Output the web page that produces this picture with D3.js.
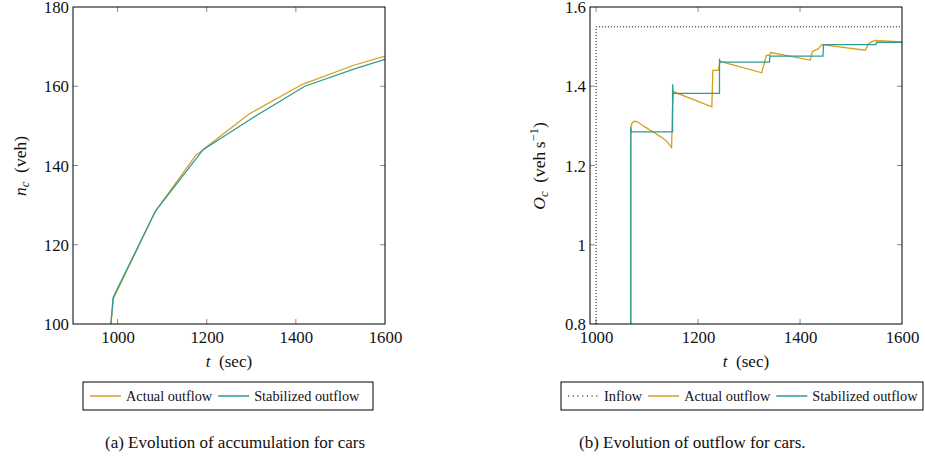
<!DOCTYPE html>
<html>
<head>
<meta charset="utf-8">
<script src="https://cdn.jsdelivr.net/npm/d3@7/dist/d3.min.js"></script>
</head>
<body style="margin:0">
<svg id="chart" width="925" height="459" font-family='"Liberation Serif", monospace'></svg>
<script>
// ---------- Data ----------
// (a) accumulation n_c (veh) vs t (sec)
const accActualT   = [985, 991, 1085, 1175, 1195, 1295, 1415, 1530, 1600];
const accActualN   = [100, 106.5, 128.5, 142.5, 144.3, 153, 160.5, 165.3, 167.6];
const accStabT     = [985, 990, 1085, 1192, 1300, 1420, 1530, 1600];
const accStabN     = [100, 106.7, 128.5, 144, 151.8, 160, 164.3, 166.8];
const accXTicks    = [1000, 1200, 1400, 1600];
const accYTicks    = [100, 120, 140, 160, 180];

// (b) outflow O_c (veh/s) vs t (sec)
const inflowT      = [1000, 1000, 1600];
const inflowO      = [0.8, 1.55, 1.55];
const outActualT   = [1068, 1068, 1071, 1075, 1080, 1086, 1095, 1105, 1112, 1122, 1132, 1140, 1148,
                      1150, 1152, 1227, 1229, 1240, 1243, 1325, 1327, 1329, 1334, 1340, 1343,
                      1420, 1424, 1430, 1436, 1443, 1528, 1534, 1540, 1547, 1600];
const outActualO   = [0.8, 1.298, 1.308, 1.312, 1.311, 1.306, 1.298, 1.29, 1.285, 1.276, 1.268, 1.259, 1.245,
                      1.35, 1.386, 1.348, 1.44, 1.44, 1.463, 1.434, 1.447, 1.453, 1.478, 1.478, 1.485,
                      1.466, 1.487, 1.491, 1.495, 1.505, 1.491, 1.507, 1.512, 1.516, 1.512];
const outStabT     = [1068, 1068, 1069, 1150, 1150, 1151, 1242, 1242, 1243, 1340, 1341, 1445, 1446, 1549, 1550, 1600];
const outStabO     = [0.8, 1.297, 1.285, 1.285, 1.405, 1.382, 1.382, 1.47, 1.461, 1.461, 1.476, 1.476, 1.505, 1.505, 1.511, 1.511];
const outXTicks    = [1000, 1200, 1400, 1600];
const outYTicks    = [0.8, 1, 1.2, 1.4, 1.6];

const ORANGE = "#D6A01A";
const TEAL   = "#2C9C97";
const TICKC  = "#8a8a8a";
const SERIF  = '"Liberation Serif", monospace';

const svg = d3.select("#chart");

function T(sel){ return sel.attr("font-family", SERIF).style("font-family", SERIF).attr("fill", "#111"); }

function panel(opt){
  const {x0,x1,y0,y1,xDom,yDom,xTicks,yTicks,yFmt,series} = opt;
  const x = d3.scaleLinear().domain(xDom).range([x0,x1]);
  const y = d3.scaleLinear().domain(yDom).range([y1,y0]);
  const g = svg.append("g");
  const cid = "clip"+Math.round(x0);
  svg.append("defs").append("clipPath").attr("id",cid)
    .append("rect").attr("x",x0).attr("y",y0).attr("width",x1-x0).attr("height",y1-y0);
  const tl = 5;
  xTicks.forEach(t=>{
    const px = x(t);
    if (px > x0+0.5 && px < x1-0.5){
      g.append("line").attr("x1",px).attr("x2",px).attr("y1",y1).attr("y2",y1-tl).attr("stroke",TICKC).attr("stroke-width",1);
      g.append("line").attr("x1",px).attr("x2",px).attr("y1",y0).attr("y2",y0+tl).attr("stroke",TICKC).attr("stroke-width",1);
    }
  });
  yTicks.forEach(v=>{
    const py = y(v);
    if (py > y0+0.5 && py < y1-0.5){
      g.append("line").attr("x1",x0).attr("x2",x0+tl).attr("y1",py).attr("y2",py).attr("stroke",TICKC).attr("stroke-width",1);
      g.append("line").attr("x1",x1).attr("x2",x1-tl).attr("y1",py).attr("y2",py).attr("stroke",TICKC).attr("stroke-width",1);
    }
  });
  const line = d3.line().x(d=>x(d[0])).y(d=>y(d[1]));
  series.forEach(s=>{
    const pts = s.t.map((t,i)=>[t,s.v[i]]);
    g.append("path").attr("d",line(pts)).attr("fill","none")
      .attr("stroke",s.color).attr("stroke-width",s.w||1.3)
      .attr("stroke-dasharray",s.dash||null)
      .attr("clip-path",`url(#${cid})`);
  });
  g.append("rect").attr("x",x0).attr("y",y0).attr("width",x1-x0).attr("height",y1-y0)
    .attr("fill","none").attr("stroke","#000").attr("stroke-width",1);
  const xa = d3.axisBottom(x).tickValues(xTicks).tickSize(0).tickPadding(0).tickFormat(d3.format("d"));
  const xg = g.append("g").attr("transform",`translate(0,${y1})`).call(xa);
  xg.attr("font-family",SERIF).attr("font-size",16.8);
  xg.select(".domain").remove();
  T(xg.selectAll("text")).attr("dy",null).attr("y",19);
  const ya = d3.axisLeft(y).tickValues(yTicks).tickSize(0).tickPadding(0).tickFormat(yFmt);
  const yg = g.append("g").attr("transform",`translate(${x0-4},0)`).call(ya);
  yg.attr("font-family",SERIF).attr("font-size",16.8);
  yg.select(".domain").remove();
  T(yg.selectAll("text")).attr("dy","0.34em");
  const xl = T(g.append("text")).attr("x",(x0+x1)/2).attr("y",y1+43).attr("text-anchor","middle").attr("font-size",17);
  xl.append("tspan").attr("font-style","italic").text("t");
  xl.append("tspan").text("\u2002(sec)");
  return {x,y,g};
}

panel({x0:73,x1:385,y0:7,y1:324,xDom:[900,1600],yDom:[100,180],
  xTicks:accXTicks,yTicks:accYTicks,yFmt:d3.format("d"),
  series:[
    {t:accActualT,v:accActualN,color:ORANGE},
    {t:accStabT,v:accStabN,color:TEAL}
  ]});
panel({x0:590,x1:902,y0:7,y1:324,xDom:[988,1600],yDom:[0.8,1.6],
  xTicks:outXTicks,yTicks:outYTicks,yFmt:d=> (d===1?"1":d3.format(".1f")(d)),
  series:[
    {t:inflowT,v:inflowO,color:"#000",w:1,dash:"1,2"},
    {t:outActualT,v:outActualO,color:ORANGE},
    {t:outStabT,v:outStabO,color:TEAL}
  ]});

(function(){
  const t1 = T(svg.append("text")).attr("transform","translate(26,166) rotate(-90)")
    .attr("text-anchor","middle").attr("font-size",17.5);
  t1.append("tspan").attr("font-style","italic").text("n");
  t1.append("tspan").attr("font-style","italic").attr("font-size",12.5).attr("dy",3).text("c");
  t1.append("tspan").attr("dy",-3).text("\u2002(veh)");

  const t2 = T(svg.append("text")).attr("transform","translate(545,166) rotate(-90)")
    .attr("text-anchor","middle").attr("font-size",17.5);
  t2.append("tspan").attr("font-style","italic").text("O");
  t2.append("tspan").attr("font-style","italic").attr("font-size",12.5).attr("dy",3).text("c");
  t2.append("tspan").attr("dy",-3).text("\u2002(veh\u2009s");
  t2.append("tspan").attr("font-size",12.5).attr("dy",-7).text("\u22121");
  t2.append("tspan").attr("dy",7).text(")");
})();

function legend(bx0,bx1,items){
  const by0 = 382, by1 = 410, cy = 396;
  svg.append("rect").attr("x",bx0).attr("y",by0).attr("width",bx1-bx0).attr("height",by1-by0)
    .attr("fill","#fff").attr("stroke","#000").attr("stroke-width",1);
  let cx = bx0 + 7;
  items.forEach(it=>{
    svg.append("line").attr("x1",cx).attr("x2",cx+31).attr("y1",cy).attr("y2",cy)
      .attr("stroke",it.color).attr("stroke-width",it.dash?1.2:1.5).attr("stroke-dasharray",it.dash||null);
    const tx = T(svg.append("text")).attr("x",cx+36).attr("y",cy+4.8).attr("font-size",14.3).text(it.label);
    cx = cx + 36 + tx.node().getComputedTextLength() + 6;
  });
}
legend(83,373,[{label:"Actual outflow",color:ORANGE},{label:"Stabilized outflow",color:TEAL}]);
legend(561,923,[{label:"Inflow",color:"#000",dash:"1.2,3.5"},{label:"Actual outflow",color:ORANGE},{label:"Stabilized outflow",color:TEAL}]);

T(svg.append("text")).attr("x",105).attr("y",448).attr("font-size",17).text("(a) Evolution of accumulation for cars");
T(svg.append("text")).attr("x",579).attr("y",448).attr("font-size",17).text("(b) Evolution of outflow for cars.");
</script>
</body>
</html>
